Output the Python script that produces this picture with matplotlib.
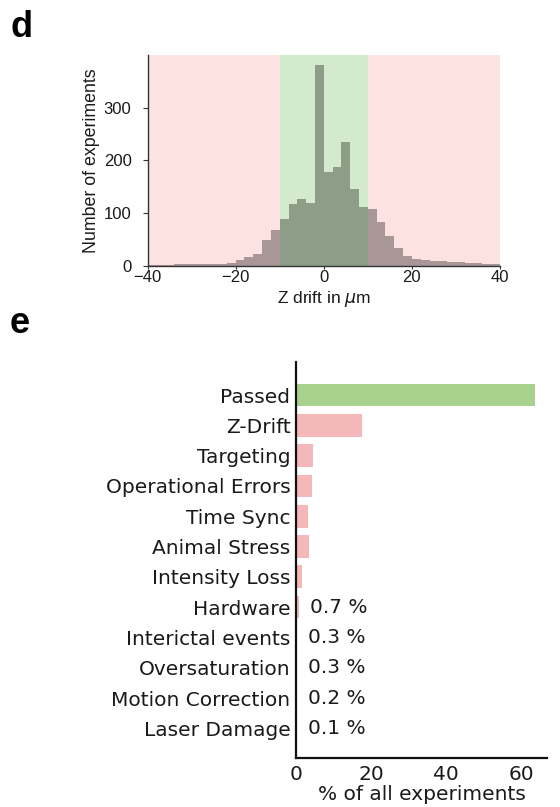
import numpy as np
import matplotlib
matplotlib.use("Agg")
import matplotlib.pyplot as plt

# Panel d: histogram of z drift (2 um bins from -40 to 40)
drift_edges = np.arange(-40, 41, 2)
drift_counts = [1, 1, 1, 2, 2, 2, 2, 3, 3, 5,
                10, 16, 22, 48, 67, 88, 116, 127, 118, 381,
                178, 187, 235, 145, 112, 107, 82, 56, 34, 18,
                13, 10, 9, 8, 7, 6, 5, 5, 3, 2]
pass_window = (-10, 10)

# Panel e: outcome of quality control
categories = ["Passed", "Z-Drift", "Targeting", "Operational Errors", "Time Sync",
              "Animal Stress", "Intensity Loss", "Hardware", "Interictal events",
              "Oversaturation", "Motion Correction", "Laser Damage"]
percent = [63.8, 17.5, 4.4, 4.3, 3.2, 3.5, 1.7, 0.7, 0.3, 0.3, 0.2, 0.1]
labelled = ["Hardware", "Interictal events", "Oversaturation",
            "Motion Correction", "Laser Damage"]

pink = "#fde2e2"
green = "#d3ebcc"

fig = plt.figure(figsize=(5.6, 8.07), dpi=100)

# --- d ---
ax1 = fig.add_axes([0.2634, 0.671, 0.6295, 0.2608])
ax1.axvspan(-40, pass_window[0], color=pink, lw=0, zorder=0)
ax1.axvspan(pass_window[1], 40, color=pink, lw=0, zorder=0)
ax1.axvspan(pass_window[0], pass_window[1], color=green, lw=0, zorder=0)
ax1.hist(drift_edges[:-1], bins=drift_edges, weights=drift_counts,
         color="k", alpha=0.33, zorder=1)
ax1.set_xlim(-40, 40)
ax1.set_ylim(0, max(drift_counts) * 1.05)
ax1.set_xticks([-40, -20, 0, 20, 40])
ax1.set_yticks([0, 100, 200, 300])
for s in ["top", "right"]:
    ax1.spines[s].set_visible(False)
for s in ["left", "bottom"]:
    ax1.spines[s].set_color("#333333")
    ax1.spines[s].set_linewidth(1.0)
ax1.tick_params(axis="y", length=3.5, pad=8, colors="#333333", labelcolor="#1a1a1a")
ax1.tick_params(axis="x", length=2, pad=1, colors="#333333", labelcolor="#1a1a1a")
for lab in ax1.get_xticklabels() + ax1.get_yticklabels():
    lab.set_fontfamily("Liberation Sans")
    lab.set_fontsize(12)
ax1.set_ylabel("Number of experiments", family="Liberation Sans", size=12.8,
               color="#1a1a1a")
ax1.yaxis.set_label_coords(-0.135, 0.5)
ax1.set_xlabel(r"Z drift in $\mu$m", family="Liberation Sans", size=12.5,
               color="#1a1a1a", labelpad=3)

# --- e ---
ax2 = fig.add_axes([0.5286, 0.0611, 0.4488, 0.4907])
ypos = np.arange(len(categories))
bar_colors = ["#a9d18e"] + ["#f5b8b8"] * (len(categories) - 1)
ax2.barh(ypos, percent, height=0.75, color=bar_colors)
for i, (cat, v) in enumerate(zip(categories, percent)):
    if cat in labelled:
        ax2.text(v + 3, i, f"{v} %", va="center", ha="left",
                 fontsize=14.5, family="DejaVu Sans", color="#1a1a1a")
ax2.set_yticks(ypos)
ax2.set_yticklabels(categories, fontsize=14.5, family="DejaVu Sans", color="#1a1a1a")
ax2.set_ylim(len(categories) - 1 + 0.97, -1.1)
ax2.set_xlim(0, percent[0] * 1.05)
ax2.set_xticks([0, 20, 40, 60])
for lab in ax2.get_xticklabels():
    lab.set_fontsize(14.5)
    lab.set_color("#1a1a1a")
ax2.tick_params(axis="y", length=0, pad=4)
ax2.tick_params(axis="x", length=0, pad=5)
for s in ["top", "right"]:
    ax2.spines[s].set_visible(False)
for s in ["left", "bottom"]:
    ax2.spines[s].set_linewidth(1.6)
    ax2.spines[s].set_color("#111111")
ax2.set_xlabel("% of all experiments", fontsize=14.5, color="#1a1a1a", labelpad=1)

# Panel letters
fig.text(0.0179, 0.966, "d", fontsize=26, fontweight="bold",
         family="Liberation Sans", va="center", ha="left")
fig.text(0.0179, 0.599, "e", fontsize=26, fontweight="bold",
         family="Liberation Sans", va="center", ha="left")

fig.savefig("out.png", dpi=100)
